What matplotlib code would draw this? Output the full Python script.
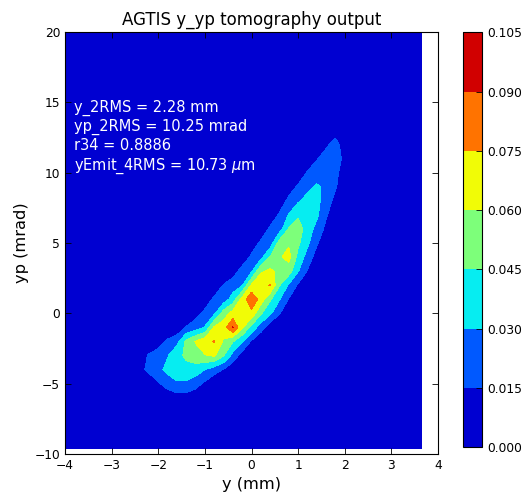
import matplotlib
matplotlib.use("Agg")
import matplotlib.pyplot as plt
import numpy as np

# grid of the reconstructed phase space (only the region with signal is listed)
y_mm = [-2.4, -2.2, -2.0, -1.8, -1.6, -1.4, -1.2, -1.0, -0.8, -0.6, -0.4, -0.2,
        0.0, 0.2, 0.4, 0.6, 0.8, 1.0, 1.2, 1.4, 1.6, 1.8, 2.0]
yp_mrad = [-6, -5, -4, -3, -2, -1, 0, 1, 2, 3, 4, 5, 6, 7, 8, 9, 10, 11, 12, 13]

# outer limits of the reconstruction grid (density is zero there)
y_edges = [-4.0, 3.64]
yp_edges = [-9.6, 20.0]

# density in units of 1e-3, one row per yp value
density = [
    [0, 0, 2, 5, 8, 8, 5, 2, 0, 0, 0, 0, 0, 0, 0, 0, 0, 0, 0, 0, 0, 0, 0],
    [0, 4, 13, 22, 28, 27, 21, 12, 3, 0, 0, 0, 0, 0, 0, 0, 0, 0, 0, 0, 0, 0, 0],
    [10, 19, 26, 34, 38, 40, 38, 30, 22, 14, 4, 0, 0, 0, 0, 0, 0, 0, 0, 0, 0, 0, 0],
    [5, 17, 24, 29, 40, 48, 54, 59, 62, 46, 25, 8, 0, 0, 0, 0, 0, 0, 0, 0, 0, 0, 0],
    [0, 0, 6, 18, 26, 48, 61, 70, 76, 58, 46, 31, 13, 2, 0, 0, 0, 0, 0, 0, 0, 0, 0],
    [0, 0, 0, 0, 3, 16, 22, 31, 62, 68, 91, 62, 40, 22, 5, 0, 0, 0, 0, 0, 0, 0, 0],
    [0, 0, 0, 0, 0, 2, 10, 19, 27, 52, 66, 74, 70, 47, 33, 16, 3, 0, 0, 0, 0, 0, 0],
    [0, 0, 0, 0, 0, 0, 0, 6, 18, 22, 36, 66, 88, 68, 47, 31, 14, 2, 0, 0, 0, 0, 0],
    [0, 0, 0, 0, 0, 0, 0, 0, 4, 16, 23, 29, 62, 70, 76, 46, 28, 13, 2, 0, 0, 0, 0],
    [0, 0, 0, 0, 0, 0, 0, 0, 0, 0, 8, 21, 28, 58, 63, 56, 52, 31, 14, 2, 0, 0, 0],
    [0, 0, 0, 0, 0, 0, 0, 0, 0, 0, 0, 5, 18, 25, 46, 58, 65, 40, 24, 8, 0, 0, 0],
    [0, 0, 0, 0, 0, 0, 0, 0, 0, 0, 0, 0, 6, 18, 22, 52, 58, 48, 33, 17, 4, 0, 0],
    [0, 0, 0, 0, 0, 0, 0, 0, 0, 0, 0, 0, 0, 4, 18, 23, 46, 52, 38, 25, 11, 2, 0],
    [0, 0, 0, 0, 0, 0, 0, 0, 0, 0, 0, 0, 0, 0, 5, 17, 31, 43, 42, 33, 17, 5, 0],
    [0, 0, 0, 0, 0, 0, 0, 0, 0, 0, 0, 0, 0, 0, 0, 6, 19, 28, 36, 34, 23, 10, 0],
    [0, 0, 0, 0, 0, 0, 0, 0, 0, 0, 0, 0, 0, 0, 0, 0, 8, 17, 25, 32, 27, 17, 3],
    [0, 0, 0, 0, 0, 0, 0, 0, 0, 0, 0, 0, 0, 0, 0, 0, 0, 6, 16, 22, 26, 20, 5],
    [0, 0, 0, 0, 0, 0, 0, 0, 0, 0, 0, 0, 0, 0, 0, 0, 0, 0, 8, 14, 22, 24, 10],
    [0, 0, 0, 0, 0, 0, 0, 0, 0, 0, 0, 0, 0, 0, 0, 0, 0, 0, 0, 5, 12, 21, 6],
    [0, 0, 0, 0, 0, 0, 0, 0, 0, 0, 0, 0, 0, 0, 0, 0, 0, 0, 0, 0, 4, 8, 3],
]

levels = [0.000, 0.015, 0.030, 0.045, 0.060, 0.075, 0.090, 0.105]

stats = ["y_2RMS = 2.28 mm",
         "yp_2RMS = 10.25 mrad",
         "r34 = 0.8886",
         r"yEmit_4RMS = 10.73 $\mu$m"]

# full grid with zero border
x = np.concatenate([[y_edges[0]], y_mm, [y_edges[1]]])
y = np.concatenate([[yp_edges[0]], yp_mrad, [yp_edges[1]]])
z = np.pad(np.array(density, dtype=float) / 1000.0, 1)

fig = plt.figure(figsize=(5.29, 5.01), dpi=100)
ax = fig.add_axes([0.1229, 0.0938, 0.7051, 0.8423])

cf = ax.contourf(x, y, z, levels=levels, cmap="jet")

ax.set_xlim(-4, 4)
ax.set_ylim(-10, 20)
ax.set_xticks(range(-4, 5))
ax.set_yticks(range(-10, 21, 5))
ax.tick_params(direction="in", top=True, right=True, labelsize=8.8, length=4, width=0.6)
ax.set_xlabel("y (mm)", fontsize=11.7, labelpad=4)
ax.set_ylabel("yp (mrad)", fontsize=11.7)
ax.set_title("AGTIS y_yp tomography output", fontsize=12, pad=5)

ax.text(-3.8, 15.2, "\n".join(stats), color="white", fontsize=10.5,
        va="top", ha="left", linespacing=1.27)

cax = fig.add_axes([0.8752, 0.1078, 0.0359, 0.8277])
cb = fig.colorbar(cf, cax=cax, ticks=levels, format="%.3f")
cb.ax.tick_params(direction="in", labelsize=8.8, length=4, width=0.6)

fig.savefig("out.png", dpi=100)
